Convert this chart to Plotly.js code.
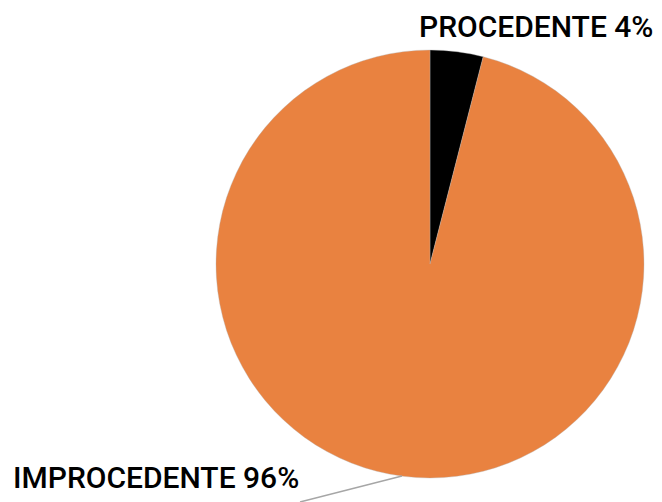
<!DOCTYPE html>
<html><head><meta charset="utf-8">
<script src="https://cdn.plot.ly/plotly-3.0.1.min.js"></script>
<style>html,body{margin:0;padding:0;background:#fff}#chart{width:662px;height:502px}</style>
</head><body><div id="chart"></div>
<script>
const categories = ["PROCEDENTE", "IMPROCEDENTE"];
const values = [4, 96];
const colors = ["#000000", "#E98240"];

const total = values.reduce((a, b) => a + b, 0);
const labelText = categories.map((c, i) => c + " " + Math.round(values[i] / total * 100) + "%");

const data = [{
  type: "pie",
  labels: categories,
  values: values,
  sort: false,
  direction: "clockwise",
  rotation: 0,
  textinfo: "none",
  hoverinfo: "label+percent",
  marker: {colors: colors, line: {color: "rgba(180,180,180,0.6)", width: 0.6}},
  domain: {x: [216/662, 644/662], y: [1 - 478/502, 1 - 50/502]}
}];

const fontSpec = {family: "Roboto, 'Open Sans', sans-serif", size: 30, color: "#000", weight: 500};

const layout = {
  width: 662, height: 502,
  margin: {l: 0, r: 0, t: 0, b: 0},
  paper_bgcolor: "#fff",
  showlegend: false,
  annotations: [
    {text: labelText[0], xref: "paper", yref: "paper", x: 536/662, y: 1 - 27/502,
     xanchor: "center", yanchor: "middle", showarrow: false, font: fontSpec},
    {text: labelText[1], xref: "paper", yref: "paper", x: 156/662, y: 1 - 477/502,
     xanchor: "center", yanchor: "middle", showarrow: false, font: fontSpec}
  ],
  shapes: [
    {type: "line", xref: "paper", yref: "paper", x0: 300/662, y0: 0, x1: 402/662, y1: 1 - 476/502,
     line: {color: "#A6A6A6", width: 1.5}, layer: "above"}
  ]
};

Plotly.newPlot("chart", data, layout, {displayModeBar: false, staticPlot: true});
</script>
</body></html>
